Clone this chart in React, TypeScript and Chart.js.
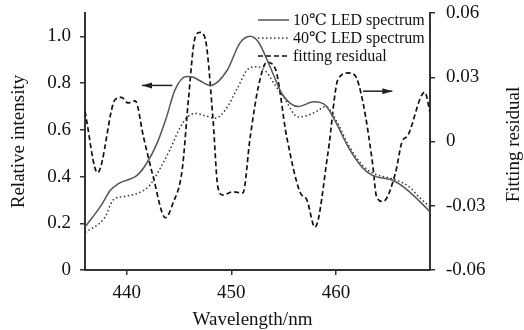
import React, { useEffect, useRef } from 'react';
import { Chart, registerables } from 'chart.js';

Chart.register(...registerables);

// 10 ℃ LED spectrum (left axis)
const WL_10C = [436.0, 437.6, 438.4, 439.2, 441.0, 441.9, 442.9, 443.8, 444.6, 445.7, 446.3, 447.0, 448.0, 449.6, 450.8, 451.8, 452.6, 453.7, 454.9, 456.4, 457.9, 459.0, 459.9, 461.2, 462.5, 463.5, 465.4, 466.9, 469.0];
const INT_10C = [0.184, 0.28, 0.34, 0.37, 0.406, 0.457, 0.543, 0.655, 0.77, 0.828, 0.826, 0.81, 0.79, 0.855, 0.97, 1.0, 0.975, 0.87, 0.75, 0.70, 0.72, 0.705, 0.64, 0.525, 0.44, 0.405, 0.385, 0.34, 0.25];

// 40 ℃ LED spectrum (left axis)
const WL_40C = [436.0, 437.9, 438.7, 439.8, 441.3, 442.2, 443.2, 444.1, 445.1, 445.8, 446.6, 447.5, 448.5, 449.5, 450.6, 451.6, 452.5, 453.3, 454.2, 455.0, 456.4, 457.2, 458.2, 459.0, 459.9, 461.2, 462.5, 463.5, 465.4, 466.9, 468.0, 469.0];
const INT_40C = [0.16, 0.225, 0.30, 0.315, 0.333, 0.363, 0.436, 0.513, 0.61, 0.655, 0.67, 0.66, 0.65, 0.69, 0.78, 0.86, 0.87, 0.85, 0.79, 0.74, 0.655, 0.66, 0.68, 0.70, 0.65, 0.535, 0.45, 0.415, 0.39, 0.36, 0.31, 0.27];

// fitting residual (right axis)
const WL_RES = [436.0, 437.2, 438.9, 439.5, 440.1, 440.8, 441.6, 442.5, 443.7, 444.4, 445.3, 445.9, 446.5, 447.0, 447.5, 448.25, 448.7, 449.2, 450.1, 451.1, 451.8, 452.6, 453.4, 454.2, 455.3, 456.6, 457.2, 458.0, 459.25, 460.2, 461.2, 461.8, 462.6, 463.5, 463.9, 464.5, 465.7, 466.3, 466.9, 468.5, 469.0];
const RES = [0.014, -0.0146, 0.0197, 0.0206, 0.018, 0.019, 0.002, -0.016, -0.0356, -0.029, -0.013, 0.02, 0.048, 0.051, 0.048, 0.010, -0.021, -0.025, -0.0235, -0.024, 0.002, 0.026, 0.037, 0.034, 0.002, -0.024, -0.027, -0.040, -0.005, 0.029, 0.032, 0.031, 0.018, -0.010, -0.026, -0.028, -0.0146, -0.0005, 0.003, 0.023, 0.0136];

const X_TICKS = [440, 450, 460];
const Y_TICKS = [0, 0.2, 0.4, 0.6, 0.8, 1.0];
const Y2_TICKS = [-0.06, -0.03, 0, 0.03, 0.06];

const LEGEND_LABELS = ['10\u2103 LED spectrum', '40\u2103 LED spectrum', 'fitting residual'];

const SERIF = "'Liberation Serif', 'Times New Roman', 'DejaVu Serif', serif";
const AXIS_COLOR = '#333';

const pts = (xs: number[], ys: number[]) => xs.map((x, i) => ({ x, y: ys[i] }));

const overlayPlugin = {
  id: 'overlay',
  afterDraw(chart: any) {
    const { ctx, chartArea, scales } = chart;
    const xs = scales.x;
    const ys = scales.y;
    const y2 = scales.y2;
    ctx.save();

    // legend
    const styles = [
      { color: '#555', width: 1.5, dash: [] as number[] },
      { color: '#333', width: 1.5, dash: [1.5, 2.5] },
      { color: '#111', width: 1.7, dash: [5, 3] },
    ];
    const lx0 = chartArea.right - 172;
    const lx1 = chartArea.right - 141;
    const tx = chartArea.right - 137;
    ctx.font = `16px ${SERIF}`;
    ctx.textBaseline = 'middle';
    ctx.textAlign = 'left';
    LEGEND_LABELS.forEach((label, i) => {
      const y = chartArea.top + 7 + i * 18;
      const s = styles[i];
      ctx.beginPath();
      ctx.setLineDash(s.dash);
      ctx.lineWidth = s.width;
      ctx.strokeStyle = s.color;
      ctx.moveTo(lx0, y);
      ctx.lineTo(lx1, y);
      ctx.stroke();
      ctx.setLineDash([]);
      ctx.fillStyle = '#111';
      ctx.fillText(label, tx, y + 1);
    });

    // arrows
    const arrow = (x0: number, x1: number, y: number, dir: number) => {
      ctx.beginPath();
      ctx.setLineDash([]);
      ctx.lineWidth = 1.5;
      ctx.strokeStyle = '#222';
      ctx.moveTo(x0, y);
      ctx.lineTo(x1, y);
      ctx.stroke();
      const tip = dir < 0 ? Math.min(x0, x1) : Math.max(x0, x1);
      ctx.beginPath();
      ctx.fillStyle = '#222';
      ctx.moveTo(tip, y);
      ctx.lineTo(tip - dir * 10, y - 3);
      ctx.lineTo(tip - dir * 10, y + 3);
      ctx.closePath();
      ctx.fill();
    };
    arrow(xs.getPixelForValue(441.45), xs.getPixelForValue(444.35), ys.getPixelForValue(0.79), -1);
    arrow(xs.getPixelForValue(462.6), xs.getPixelForValue(465.4), y2.getPixelForValue(0.0235), 1);

    // bottom title
    ctx.fillStyle = '#111';
    ctx.font = `19px ${SERIF}`;
    ctx.textAlign = 'center';
    ctx.textBaseline = 'alphabetic';
    ctx.fillText('Wavelength/nm', (chartArea.left + chartArea.right) / 2 - 5, 325);

    // right title (reads bottom to top)
    ctx.save();
    ctx.translate(514, (chartArea.top + chartArea.bottom) / 2 + 3);
    ctx.rotate(-Math.PI / 2);
    ctx.textBaseline = 'middle';
    ctx.fillText('Fitting residual', 0, 0);
    ctx.restore();

    ctx.restore();
  },
};

export default function App() {
  const ref = useRef<HTMLCanvasElement | null>(null);

  useEffect(() => {
    document.body.style.margin = '0';
    const canvas = ref.current;
    if (!canvas) return;
    const tickFont = { family: SERIF, size: 19 };
    const gridCommon = {
      drawOnChartArea: false,
      drawTicks: true,
      tickLength: 5,
      color: AXIS_COLOR,
      lineWidth: 1.5,
    };
    const chart = new Chart(canvas, {
      type: 'line',
      data: {
        datasets: [
          {
            label: LEGEND_LABELS[0],
            data: pts(WL_10C, INT_10C),
            yAxisID: 'y',
            borderColor: '#555',
            borderWidth: 1.5,
            pointRadius: 0,
            cubicInterpolationMode: 'monotone',
          },
          {
            label: LEGEND_LABELS[1],
            data: pts(WL_40C, INT_40C),
            yAxisID: 'y',
            borderColor: '#333',
            borderWidth: 1.5,
            borderDash: [1.5, 2.5],
            pointRadius: 0,
            cubicInterpolationMode: 'monotone',
          },
          {
            label: LEGEND_LABELS[2],
            data: pts(WL_RES, RES),
            yAxisID: 'y2',
            borderColor: '#111',
            borderWidth: 1.7,
            borderDash: [5, 3],
            pointRadius: 0,
            cubicInterpolationMode: 'monotone',
          },
        ],
      },
      options: {
        animation: false,
        responsive: false,
        layout: { padding: { top: 13, left: 0, right: 0, bottom: 0 } },
        plugins: {
          legend: { display: false },
          tooltip: { enabled: false },
        },
        scales: {
          x: {
            type: 'linear',
            position: 'bottom',
            min: 436,
            max: 469,
            afterBuildTicks: (s: any) => {
              s.ticks = X_TICKS.map((v) => ({ value: v }));
            },
            afterFit: (s: any) => {
              s.height = 60;
              s.paddingLeft = 0;
              s.paddingRight = 0;
            },
            grid: gridCommon,
            border: { display: true, color: AXIS_COLOR, width: 2 },
            ticks: { font: tickFont, color: '#111', padding: 7, maxRotation: 0 },
          },
          y: {
            type: 'linear',
            position: 'left',
            min: 0,
            max: 1.1,
            afterBuildTicks: (s: any) => {
              s.ticks = Y_TICKS.map((v) => ({ value: v }));
            },
            afterFit: (s: any) => {
              s.width = 85;
              s.paddingTop = 0;
              s.paddingBottom = 0;
            },
            grid: gridCommon,
            border: { display: true, color: AXIS_COLOR, width: 2 },
            ticks: {
              font: tickFont,
              color: '#111',
              padding: 9,
              callback: (v: any) => (Number(v) === 0 ? '0' : Number(v).toFixed(1)),
            },
            title: {
              display: true,
              text: 'Relative intensity',
              font: { family: SERIF, size: 19 },
              color: '#111',
              padding: { top: 8, bottom: 0 },
            },
          },
          y2: {
            type: 'linear',
            position: 'right',
            min: -0.06,
            max: 0.06,
            afterBuildTicks: (s: any) => {
              s.ticks = Y2_TICKS.map((v) => ({ value: v }));
            },
            afterFit: (s: any) => {
              s.width = 94;
              s.paddingTop = 0;
              s.paddingBottom = 0;
            },
            grid: gridCommon,
            border: { display: true, color: AXIS_COLOR, width: 2 },
            ticks: {
              font: tickFont,
              color: '#111',
              padding: 11,
              callback: (v: any) => (Number(v) === 0 ? '0' : Number(v).toFixed(2)),
            },
          },
        },
      },
      plugins: [overlayPlugin],
    } as any);
    return () => chart.destroy();
  }, []);

  return (
    <div style={{ width: 524, height: 330 }}>
      <canvas ref={ref} width={524} height={330} style={{ display: 'block' }} />
    </div>
  );
}
